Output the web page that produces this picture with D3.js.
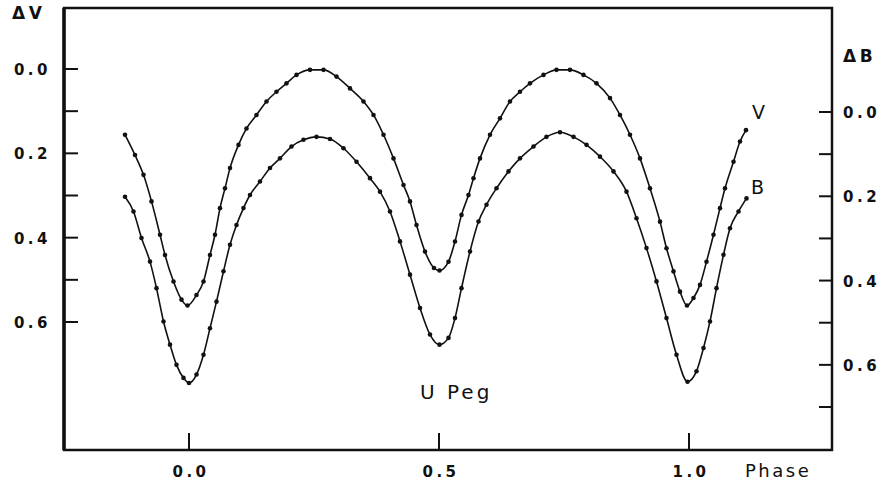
<!DOCTYPE html>
<html>
<head>
<meta charset="utf-8">
<script src="https://cdn.jsdelivr.net/npm/d3@7"></script>
<style>
  body { margin: 0; background: #fff; }
  text { font-family: "DejaVu Sans", sans-serif; fill: #111; }
  .tick-label { font-size: 15px; font-weight: bold; letter-spacing: 3.5px; }
</style>
</head>
<body>
<div id="chart"></div>
<script>
var width = 885,
    height = 490;

// phase / delta V
var vPhase = [-0.128, -0.108, -0.091, -0.075, -0.058, -0.048, -0.031, -0.015, -0.003, 0.015, 0.029, 0.042,
  0.052, 0.062, 0.072, 0.082, 0.099, 0.115, 0.135, 0.155, 0.175, 0.195, 0.215, 0.242, 0.269, 0.295, 0.322,
  0.349, 0.369, 0.389, 0.409, 0.429, 0.442, 0.455, 0.472, 0.490, 0.501, 0.519, 0.532, 0.545, 0.559, 0.569,
  0.582, 0.602, 0.622, 0.642, 0.662, 0.682, 0.709, 0.735, 0.762, 0.789, 0.815, 0.842, 0.862, 0.882, 0.902,
  0.922, 0.942, 0.955, 0.969, 0.982, 0.996, 1.009, 1.022, 1.035, 1.049, 1.062, 1.072, 1.089, 1.102, 1.114];
var vMag = [0.156, 0.204, 0.251, 0.314, 0.393, 0.441, 0.504, 0.547, 0.561, 0.536, 0.504, 0.441,
  0.393, 0.330, 0.283, 0.235, 0.180, 0.141, 0.109, 0.077, 0.054, 0.034, 0.014, 0.002, 0.002, 0.018, 0.046,
  0.077, 0.109, 0.156, 0.212, 0.275, 0.314, 0.370, 0.433, 0.472, 0.478, 0.457, 0.409, 0.346, 0.299, 0.259,
  0.212, 0.156, 0.117, 0.077, 0.054, 0.034, 0.014, 0.002, 0.002, 0.014, 0.034, 0.069, 0.109, 0.156, 0.212,
  0.283, 0.362, 0.425, 0.480, 0.528, 0.561, 0.543, 0.512, 0.457, 0.393, 0.330, 0.283, 0.220, 0.172, 0.145];

// phase / delta B
var bPhase = [-0.128, -0.111, -0.095, -0.078, -0.065, -0.051, -0.038, -0.025, -0.011, 0.000, 0.015, 0.029,
  0.042, 0.055, 0.069, 0.082, 0.095, 0.109, 0.122, 0.142, 0.162, 0.182, 0.205, 0.229, 0.255, 0.282, 0.309,
  0.335, 0.362, 0.382, 0.402, 0.422, 0.442, 0.462, 0.482, 0.501, 0.519, 0.532, 0.545, 0.562, 0.579, 0.595,
  0.615, 0.639, 0.662, 0.689, 0.715, 0.742, 0.769, 0.795, 0.822, 0.849, 0.875, 0.895, 0.915, 0.935, 0.955,
  0.975, 0.997, 1.015, 1.029, 1.042, 1.055, 1.069, 1.082, 1.099, 1.115];
var bMag = [0.201, 0.236, 0.299, 0.355, 0.418, 0.497, 0.552, 0.600, 0.631, 0.643, 0.623, 0.576,
  0.513, 0.450, 0.378, 0.315, 0.268, 0.228, 0.197, 0.165, 0.133, 0.110, 0.082, 0.066, 0.059, 0.064, 0.086,
  0.118, 0.157, 0.189, 0.236, 0.307, 0.386, 0.465, 0.528, 0.552, 0.536, 0.489, 0.418, 0.331, 0.260, 0.220,
  0.181, 0.141, 0.110, 0.082, 0.059, 0.048, 0.059, 0.078, 0.106, 0.141, 0.189, 0.252, 0.323, 0.402, 0.489,
  0.576, 0.640, 0.615, 0.560, 0.497, 0.418, 0.339, 0.276, 0.236, 0.205];

var phaseTicks = [0, 0.5, 1.0];
var vTicks = [0, 0.1, 0.2, 0.3, 0.4, 0.5, 0.6];
var bTicks = [0, 0.1, 0.2, 0.3, 0.4, 0.5, 0.6, 0.7];
var vLabels = [0, 0.2, 0.4, 0.6];
var bLabels = [0, 0.2, 0.4, 0.6];

// frame edges (not "top": that name is taken by window.top)
var frameL = 64, frameR = 832, frameT = 8, frameB = 450;

var x = d3.scaleLinear().domain([0, 1]).range([189, 689]);
var yV = d3.scaleLinear().domain([0, 0.6]).range([69, 322]);
var yB = d3.scaleLinear().domain([0, 0.7]).range([112, 407]);

var svg = d3.select("#chart").append("svg")
    .attr("width", width)
    .attr("height", height);

// frame
svg.append("path")
    .attr("d", "M" + frameL + "," + frameT + "H" + frameR + "V" + frameB + "H" + frameL + "Z")
    .attr("fill", "none")
    .attr("stroke", "#111")
    .attr("stroke-width", 2.5);
svg.append("line")
    .attr("x1", frameL).attr("x2", frameL).attr("y1", frameT).attr("y2", frameB)
    .attr("stroke", "#111").attr("stroke-width", 3.5);

// ticks
svg.selectAll(".vtick").data(vTicks).enter().append("line")
    .attr("x1", frameL).attr("x2", frameL + 14)
    .attr("y1", function(d) { return yV(d); }).attr("y2", function(d) { return yV(d); })
    .attr("stroke", "#111").attr("stroke-width", 2);
svg.selectAll(".btick").data(bTicks).enter().append("line")
    .attr("x1", frameR - 13).attr("x2", frameR)
    .attr("y1", function(d) { return yB(d); }).attr("y2", function(d) { return yB(d); })
    .attr("stroke", "#111").attr("stroke-width", 2);
svg.selectAll(".ptick").data(phaseTicks).enter().append("line")
    .attr("x1", function(d) { return x(d); }).attr("x2", function(d) { return x(d); })
    .attr("y1", frameB).attr("y2", frameB - 17)
    .attr("stroke", "#111").attr("stroke-width", 2);

// tick labels
svg.selectAll(".vlab").data(vLabels).enter().append("text")
    .attr("class", "tick-label")
    .attr("x", 51).attr("y", function(d) { return yV(d) + 6; })
    .attr("text-anchor", "end")
    .text(function(d) { return d.toFixed(1); });
svg.selectAll(".blab").data(bLabels).enter().append("text")
    .attr("class", "tick-label")
    .attr("x", 843).attr("y", function(d) { return yB(d) + 6; })
    .text(function(d) { return d.toFixed(1); });
svg.selectAll(".plab").data(phaseTicks).enter().append("text")
    .attr("class", "tick-label")
    .attr("x", function(d) { return x(d) + 2; }).attr("y", 477)
    .attr("text-anchor", "middle")
    .text(function(d) { return d.toFixed(1); });

svg.append("text").attr("class", "tick-label").attr("x", 12).attr("y", 19)
    .style("font-size", "17px").text("ΔV");
svg.append("text").attr("class", "tick-label").attr("x", 843).attr("y", 62)
    .style("font-size", "17px").text("ΔB");
svg.append("text").attr("x", 745).attr("y", 477)
    .style("font-size", "18px").style("letter-spacing", "2.5px").text("Phase");
svg.append("text").attr("x", 420).attr("y", 399)
    .style("font-size", "20px").style("letter-spacing", "3px").text("U Peg");
svg.append("text").attr("x", 752).attr("y", 119)
    .style("font-size", "19px").text("V");
svg.append("text").attr("x", 751).attr("y", 194)
    .style("font-size", "19px").text("B");

// curves
var vData = vPhase.map(function(p, i) { return [p, vMag[i]]; });
var bData = bPhase.map(function(p, i) { return [p, bMag[i]]; });

var lineV = d3.line()
    .x(function(d) { return x(d[0]); })
    .y(function(d) { return yV(d[1]); })
    .curve(d3.curveMonotoneX);
var lineB = d3.line()
    .x(function(d) { return x(d[0]); })
    .y(function(d) { return yB(d[1]); })
    .curve(d3.curveMonotoneX);

var g = svg.append("g");
g.append("path").attr("d", lineV(vData))
    .attr("fill", "none").attr("stroke", "#111").attr("stroke-width", 1.6);
g.append("path").attr("d", lineB(bData))
    .attr("fill", "none").attr("stroke", "#111").attr("stroke-width", 1.6);

g.selectAll(".vdot").data(vData).enter().append("circle")
    .attr("cx", function(d) { return x(d[0]); })
    .attr("cy", function(d) { return yV(d[1]); })
    .attr("r", 2.3)
    .attr("fill", "#111");
g.selectAll(".bdot").data(bData).enter().append("circle")
    .attr("cx", function(d) { return x(d[0]); })
    .attr("cy", function(d) { return yB(d[1]); })
    .attr("r", 2.3)
    .attr("fill", "#111");
</script>
</body>
</html>
